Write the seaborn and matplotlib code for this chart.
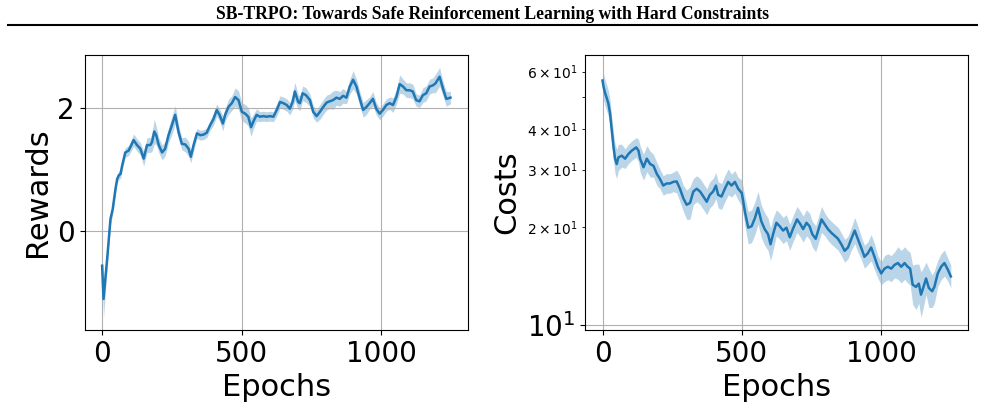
import matplotlib
matplotlib.use("Agg")
import matplotlib.pyplot as plt
from matplotlib.lines import Line2D
import numpy as np
import pandas as pd
import seaborn as sns

# Rewards curve (mean and half-width of shaded band)
reward_epochs = [0, 5, 18, 30, 38, 48, 54, 60, 66, 72,
                 83, 95, 113, 125, 137, 149, 161, 173, 179, 187,
                 194, 203, 215, 226, 238, 250, 262, 274, 286, 298,
                 310, 318, 328, 340, 352, 364, 375, 387, 399, 411,
                 421, 433, 441, 453, 465, 477, 489, 501, 513, 524,
                 534, 542, 554, 566, 578, 590, 602, 614, 626, 638,
                 650, 662, 673, 683, 691, 703, 709, 719, 731, 745,
                 757, 769, 781, 793, 805, 816, 828, 840, 852, 864,
                 876, 888, 900, 912, 924, 936, 948, 959, 971, 983,
                 995, 1007, 1019, 1031, 1043, 1055, 1067, 1079, 1091, 1103,
                 1114, 1126, 1138, 1150, 1162, 1174, 1186, 1195, 1210, 1222,
                 1234, 1249]
reward_mean = [-0.57, -1.11, -0.46, 0.19, 0.35, 0.68, 0.84, 0.90, 0.92, 1.06,
               1.27, 1.30, 1.47, 1.39, 1.33, 1.17, 1.39, 1.39, 1.44, 1.61,
               1.55, 1.39, 1.27, 1.33, 1.55, 1.71, 1.88, 1.60, 1.41, 1.40,
               1.33, 1.20, 1.39, 1.58, 1.55, 1.56, 1.59, 1.71, 1.81, 1.96,
               1.88, 1.74, 1.88, 2.01, 2.07, 2.17, 2.12, 1.93, 1.90, 1.85,
               1.68, 1.77, 1.88, 1.85, 1.86, 1.85, 1.86, 1.85, 1.96, 2.09,
               2.07, 2.04, 1.98, 2.09, 2.26, 2.09, 2.07, 2.23, 2.20, 2.12,
               1.93, 1.86, 1.93, 2.01, 2.08, 2.10, 2.12, 2.16, 2.14, 2.19,
               2.16, 2.34, 2.45, 2.34, 2.14, 1.96, 2.01, 2.07, 2.14, 1.98,
               1.90, 1.96, 2.04, 2.07, 2.04, 2.17, 2.38, 2.34, 2.28, 2.28,
               2.26, 2.12, 2.10, 2.20, 2.23, 2.34, 2.36, 2.39, 2.50, 2.31,
               2.14, 2.16]
reward_band = [0.20, 0.30, 0.15, 0.10, 0.08, 0.08, 0.07, 0.07, 0.07, 0.08,
               0.08, 0.08, 0.10, 0.10, 0.10, 0.12, 0.12, 0.12, 0.15, 0.20,
               0.15, 0.12, 0.12, 0.12, 0.12, 0.15, 0.15, 0.12, 0.10, 0.12,
               0.12, 0.10, 0.10, 0.08, 0.08, 0.08, 0.08, 0.08, 0.10, 0.10,
               0.10, 0.12, 0.10, 0.12, 0.12, 0.15, 0.15, 0.15, 0.15, 0.15,
               0.15, 0.12, 0.10, 0.08, 0.08, 0.08, 0.08, 0.08, 0.10, 0.10,
               0.10, 0.10, 0.10, 0.12, 0.15, 0.12, 0.12, 0.12, 0.12, 0.10,
               0.10, 0.10, 0.12, 0.12, 0.12, 0.12, 0.15, 0.12, 0.12, 0.12,
               0.10, 0.12, 0.15, 0.12, 0.12, 0.12, 0.12, 0.10, 0.12, 0.10,
               0.10, 0.10, 0.10, 0.10, 0.12, 0.12, 0.15, 0.12, 0.12, 0.12,
               0.12, 0.10, 0.10, 0.12, 0.12, 0.12, 0.12, 0.15, 0.15, 0.12,
               0.12, 0.10]

# Costs curve (mean, band half-width in decades)
cost_epochs = [0, 4, 10, 16, 21, 27, 33, 39, 45, 51,
               57, 69, 81, 93, 105, 121, 129, 135, 147, 159,
               171, 183, 195, 206, 218, 230, 242, 254, 266, 278,
               290, 302, 314, 326, 338, 350, 362, 374, 385, 397,
               407, 415, 427, 439, 451, 463, 475, 487, 500, 511,
               523, 535, 547, 558, 570, 582, 594, 603, 612, 624,
               636, 648, 660, 672, 683, 698, 710, 720, 732, 743,
               753, 765, 777, 786, 797, 809, 821, 833, 845, 857,
               869, 881, 893, 905, 916, 928, 940, 952, 964, 976,
               988, 1000, 1012, 1024, 1036, 1048, 1060, 1072, 1084, 1095,
               1104, 1113, 1125, 1135, 1143, 1152, 1161, 1171, 1183, 1191,
               1203, 1215, 1227, 1239, 1250]
cost_mean = [56.3, 53.7, 51.3, 49.5, 47.9, 44.7, 39.8, 35.5, 32.4, 31.2,
             32.7, 33.1, 32.4, 33.5, 34.3, 35.1, 34.3, 32.4, 30.5, 32.4,
             31.2, 30.8, 29.1, 28.1, 26.8, 27.2, 27.2, 27.5, 27.6, 26.2,
             24.5, 23.4, 23.7, 25.7, 26.2, 25.7, 24.8, 23.9, 25.1, 25.7,
             26.8, 25.1, 24.8, 26.2, 27.5, 26.8, 27.5, 26.2, 25.4, 22.3,
             19.9, 20.1, 21.3, 22.9, 20.8, 19.7, 19.0, 17.7, 19.0, 20.6,
             20.1, 19.5, 19.9, 18.6, 19.7, 21.1, 20.4, 19.7, 20.6, 20.1,
             19.0, 18.4, 19.9, 21.1, 20.4, 19.7, 19.2, 18.8, 18.4, 17.7,
             16.9, 17.3, 18.4, 19.5, 18.4, 17.3, 16.2, 16.6, 17.3, 16.2,
             15.1, 14.4, 14.9, 15.1, 14.9, 15.3, 15.5, 15.1, 15.5, 15.1,
             14.9, 13.3, 13.1, 13.4, 12.4, 13.1, 13.9, 13.0, 12.7, 13.1,
             14.4, 15.1, 15.5, 14.8, 14.1]
cost_band = [0.04, 0.04, 0.04, 0.04, 0.04, 0.04, 0.04, 0.045, 0.045, 0.045,
             0.04, 0.035, 0.03, 0.03, 0.03, 0.03, 0.035, 0.04, 0.04, 0.04,
             0.04, 0.035, 0.035, 0.03, 0.03, 0.03, 0.03, 0.03, 0.035, 0.04,
             0.04, 0.045, 0.05, 0.04, 0.04, 0.04, 0.04, 0.04, 0.04, 0.04,
             0.04, 0.04, 0.04, 0.04, 0.04, 0.035, 0.035, 0.035, 0.04, 0.045,
             0.05, 0.05, 0.05, 0.05, 0.05, 0.05, 0.05, 0.05, 0.05, 0.04,
             0.04, 0.04, 0.04, 0.04, 0.04, 0.04, 0.04, 0.04, 0.04, 0.04,
             0.04, 0.04, 0.04, 0.04, 0.035, 0.035, 0.035, 0.035, 0.035, 0.035,
             0.035, 0.035, 0.035, 0.04, 0.04, 0.035, 0.035, 0.035, 0.04, 0.04,
             0.035, 0.035, 0.04, 0.04, 0.04, 0.04, 0.05, 0.05, 0.05, 0.05,
             0.05, 0.06, 0.07, 0.06, 0.07, 0.06, 0.05, 0.06, 0.05, 0.05,
             0.04, 0.04, 0.04, 0.035, 0.035]

rewards = pd.DataFrame({"epoch": reward_epochs, "mean": reward_mean, "band": reward_band})
rewards["lo"] = rewards["mean"] - rewards["band"]
rewards["hi"] = rewards["mean"] + rewards["band"]

costs = pd.DataFrame({"epoch": cost_epochs, "mean": cost_mean, "band": cost_band})
costs["lo"] = costs["mean"] * 10 ** (-costs["band"])
costs["hi"] = costs["mean"] * 10 ** (costs["band"])

fig = plt.figure(figsize=(9.85, 4.15), dpi=100)
ax1 = fig.add_axes([0.086, 0.205, 0.389, 0.6625])
ax2 = fig.add_axes([0.594, 0.205, 0.389, 0.6625])

line_color = "#1f77b4"

# Rewards
sns.lineplot(data=rewards, x="epoch", y="mean", ax=ax1, color=line_color, linewidth=1.8)
ax1.fill_between(rewards["epoch"], rewards["lo"], rewards["hi"], color=line_color, alpha=0.3, linewidth=0)
ax1.set_xlabel("Epochs", fontsize=22)
ax1.set_ylabel("Rewards", fontsize=22)
ax1.tick_params(axis="both", which="major", labelsize=20)
ax1.grid(True)

# Costs (log scale)
sns.lineplot(data=costs, x="epoch", y="mean", ax=ax2, color=line_color, linewidth=1.8)
ax2.fill_between(costs["epoch"], costs["lo"], costs["hi"], color=line_color, alpha=0.3, linewidth=0)
ax2.set_yscale("log")
ax2.set_xlabel("Epochs", fontsize=22)
ax2.set_ylabel("Costs", fontsize=22)
ax2.tick_params(axis="both", which="major", labelsize=20)
ax2.grid(True)

# Paper header
fig.text(0.5, 0.954, "SB-TRPO: Towards Safe Reinforcement Learning with Hard Constraints",
         ha="center", va="baseline", fontsize=12.7, fontweight="bold", family="Liberation Serif")
fig.add_artist(Line2D([0.008, 0.992], [0.94, 0.94], color="black", linewidth=1.5))

fig.savefig("out.png", dpi=100)
